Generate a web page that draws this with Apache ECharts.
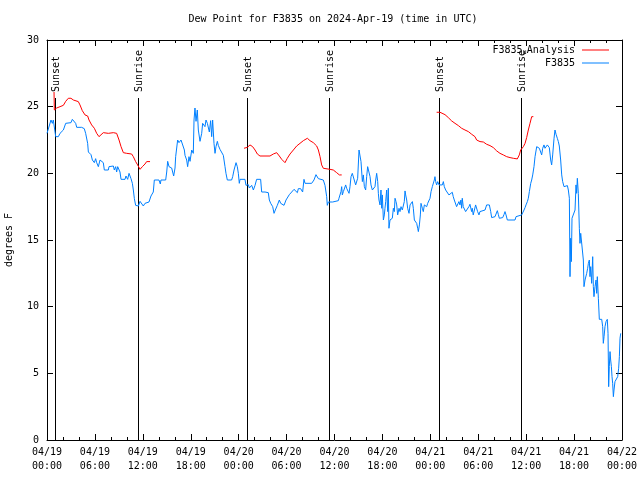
<!DOCTYPE html>
<html><head><meta charset="utf-8">
<script src="https://cdn.jsdelivr.net/npm/echarts@6/dist/echarts.min.js"></script>
<style>html,body{margin:0;padding:0;background:#fff}#c{width:640px;height:480px}</style>
</head><body><div id="c"></div>
<script>
// Hours since 2024-04-19 00:00 UTC
const dewHours = [0.0,0.5,0.67,0.79,1.09,1.42,1.63,2.05,2.34,3.0,3.17,3.42,3.59,3.72,4.34,4.67,4.84,5.09,5.18,5.51,5.68,5.93,6.09,6.22,6.43,6.64,6.85,7.05,7.18,7.68,7.76,8.31,8.43,8.6,8.72,8.85,9.02,9.14,9.27,9.77,9.89,10.1,10.27,10.52,10.69,10.81,10.94,11.1,11.44,11.65,11.85,12.06,12.27,12.48,12.77,13.02,13.31,13.44,14.02,14.19,14.27,14.86,14.99,15.11,15.28,15.61,15.86,16.03,16.11,16.36,16.53,16.78,16.95,17.2,17.28,17.49,17.61,17.78,17.91,18.12,18.32,18.41,
18.53,18.66,18.82,18.95,19.16,19.37,19.49,19.66,19.78,19.91,20.08,20.2,20.33,20.49,20.62,20.74,20.91,21.04,21.16,21.33,21.45,21.66,21.87,22.08,22.29,22.41,22.58,23.12,23.25,23.42,23.67,23.83,23.96,24.08,24.17,24.79,24.92,25.09,25.21,25.34,25.5,25.63,25.84,26.05,26.25,26.75,26.88,27.09,27.3,27.71,27.84,28.01,28.26,28.43,28.59,28.84,29.09,29.26,29.38,29.68,29.93,30.09,30.34,30.64,30.93,31.18,31.35,31.47,31.76,32.01,32.18,32.31,33.14,33.43,33.68,33.85,33.98,34.18,34.6,34.81,34.94,35.02,35.1,35.23,35.44,35.77,35.94,36.48,
36.56,36.69,36.81,36.9,36.98,37.11,37.23,37.4,37.52,37.65,37.82,37.94,38.07,38.23,38.36,38.48,38.65,38.78,38.9,39.07,39.19,39.32,39.49,39.61,39.74,39.9,40.03,40.15,40.32,40.45,40.57,40.74,40.99,41.07,41.16,41.28,41.41,41.49,41.57,41.7,41.82,41.91,41.99,42.12,42.24,42.32,42.41,42.53,42.66,42.74,42.82,42.95,43.07,43.24,43.37,43.49,43.58,43.7,43.79,43.91,44.08,44.2,44.33,44.49,44.62,44.74,44.83,44.91,45.04,45.16,45.33,45.46,45.58,45.75,45.87,46.0,46.17,46.29,46.42,46.5,46.63,46.75,46.83,47.0,47.12,47.25,47.42,47.54,47.67,47.83,47.96,48.09,48.25,48.38,48.5,48.58,48.67,48.79,48.92,49.09,49.34,49.5,49.63,49.75,49.92,50.17,50.33,50.58,50.75,50.87,51.0,51.17,51.29,51.42,51.58,51.71,51.83,51.92,52.0,52.12,52.25,52.42,52.67,52.83,52.96,53.09,53.17,53.25,53.37,53.5,53.67,53.79,53.92,54.09,54.21,54.42,
54.85,55.05,55.26,55.39,55.56,55.68,56.1,56.22,56.39,56.52,56.64,57.06,57.22,57.35,57.48,57.64,58.6,58.73,58.89,59.44,59.56,59.73,59.86,59.98,60.15,60.27,60.4,60.57,60.69,60.82,60.98,61.11,61.32,61.52,61.65,61.82,61.94,62.07,62.23,62.36,62.48,62.65,62.78,62.9,63.07,63.19,63.32,63.49,63.61,63.74,63.9,64.03,64.15,64.32,64.45,64.57,64.74,64.86,64.99,65.16,65.28,65.41,
65.49,65.57,65.66,65.74,65.99,66.12,66.24,66.32,66.41,66.53,66.66,66.74,66.83,67.08,67.16,67.24,67.37,67.49,67.58,67.7,67.79,67.91,67.99,68.08,68.2,68.33,68.41,68.49,68.62,68.75,68.83,68.91,69.04,69.16,69.46,69.58,69.66,69.75,69.87,70.0,70.16,70.25,70.33,70.41,70.5,70.58,70.67,70.75,70.83,70.92,71.0,71.12,71.33,71.46,71.58,71.67,71.75,71.84];
const dewValues = [23.0,24.0,23.75,24.0,22.75,22.75,23.0,23.25,23.75,23.8,24.05,24.05,23.75,23.45,23.45,23.35,23.0,22.25,21.6,21.4,21.0,20.8,21.1,20.8,20.5,21.0,21.1,20.8,20.25,20.25,20.5,20.55,20.25,20.5,20.1,20.5,20.5,20.1,19.55,19.55,19.8,19.55,20.0,19.6,19.25,18.75,18.1,17.6,17.55,17.9,17.75,17.55,17.75,17.8,17.85,18.3,18.6,19.5,19.5,19.2,19.5,19.5,20.1,20.9,20.5,20.4,19.8,20.4,21.25,22.5,22.3,22.5,22.2,21.75,21.35,21.0,20.5,21.25,20.9,21.75,21.5,24.0,
24.9,23.9,24.75,23.25,22.4,23.0,23.75,23.9,23.5,24.0,23.75,23.9,23.1,23.95,22.75,24.0,22.25,21.5,22.0,22.4,22.1,21.8,21.75,21.35,20.5,20.0,19.5,19.5,19.75,20.25,20.8,20.5,20.0,19.25,19.55,19.55,19.1,19.0,19.15,18.9,19.05,19.1,18.75,19.1,19.55,19.55,18.6,18.75,18.6,18.55,18.0,17.75,17.5,17.0,17.25,17.6,18.0,17.75,17.6,17.6,18.0,18.1,18.4,18.6,18.8,18.85,18.55,18.85,18.85,18.6,19.55,19.25,19.25,19.5,19.9,19.75,19.6,19.55,19.5,19.1,19.0,18.25,17.6,17.85,18.0,17.85,17.95,17.95,
18.13,18.25,18.63,19.0,18.38,18.63,18.75,19.13,18.88,18.75,18.5,19.0,19.75,20.0,20.13,19.93,19.13,19.0,19.63,21.75,21.88,20.88,19.38,19.88,19.0,18.75,19.75,20.5,20.63,19.75,19.13,18.75,18.75,19.0,19.5,20.0,19.38,18.5,18.0,17.63,18.75,17.38,18.38,16.5,16.88,17.38,17.88,18.75,17.13,18.88,15.88,16.5,16.63,16.63,17.38,17.13,18.13,17.88,17.63,16.88,17.38,17.13,17.5,17.25,17.13,17.88,18.68,18.38,18.0,17.38,17.0,17.63,17.75,17.88,17.38,16.5,16.38,16.25,15.88,15.63,16.13,16.88,17.75,17.38,17.13,17.63,17.75,17.5,17.75,17.63,18.13,18.63,19.0,19.13,19.5,19.75,19.38,19.13,19.38,19.13,19.0,19.13,19.38,19.0,18.75,18.75,18.38,18.38,18.58,18.25,18.0,18.08,17.5,17.38,17.88,17.63,18.0,17.38,18.13,17.5,17.63,17.13,17.13,17.5,17.68,17.63,17.13,17.38,16.88,16.88,17.63,17.68,17.13,16.88,17.13,17.25,
17.25,17.63,17.75,17.63,17.13,16.68,16.75,16.9,17.2,16.9,16.63,16.68,16.9,17.13,16.88,16.5,16.5,16.75,16.88,16.88,16.95,17.25,17.43,17.63,17.88,18.13,18.63,19.25,19.5,19.88,20.5,21.25,22.0,21.93,21.88,21.75,21.38,21.88,22.13,21.88,22.0,22.13,22.18,21.93,21.0,20.63,21.38,22.63,23.25,22.93,22.63,22.38,22.05,21.0,19.88,19.38,19.0,18.93,19.0,19.08,18.75,18.13,
12.25,15.13,13.38,16.63,16.63,17.25,19.13,18.5,19.63,18.5,15.88,14.75,15.5,15.5,13.5,11.5,12.0,11.88,12.5,12.88,13.25,13.5,12.25,13.0,11.75,13.75,11.5,10.75,11.5,12.0,11.0,12.25,10.63,9.05,9.05,8.5,7.25,7.75,8.5,8.88,9.05,8.0,4.0,5.5,6.63,6.0,5.5,4.75,4.25,3.25,3.75,4.38,4.5,4.75,5.38,6.25,7.63,8.0];

// Analysis series (null = gap)
const anaHours = [0.88,0.92,1.21,1.63,2.05,2.34,2.67,3.0,3.3,3.92,4.13,4.42,4.76,5.09,5.26,5.59,5.93,6.22,6.51,6.76,7.05,7.68,8.31,8.72,9.02,9.27,9.56,9.98,10.6,10.81,11.1,11.35,11.65,11.94,12.27,12.48,12.9,
13.0,
24.67,25.09,25.42,25.75,26.05,26.34,26.67,27.92,28.34,28.76,29.09,29.39,29.8,30.09,30.43,30.85,31.26,31.68,32.1,32.6,32.93,33.35,33.77,33.98,34.19,34.39,34.6,35.44,35.85,36.27,36.61,36.9,
37.0,
48.79,49.21,49.42,49.84,50.25,50.67,51.09,51.51,51.92,52.34,52.76,53.18,53.59,53.8,54.01,54.22,54.64,55.05,55.47,55.89,56.31,56.72,57.14,57.56,57.98,58.39,58.89,59.14,59.31,59.65,59.86,60.06,60.27,60.48,60.69,60.9];
const anaValues = [26.1,24.75,24.9,25.0,25.1,25.4,25.63,25.63,25.5,25.38,25.13,24.7,24.38,24.3,24.0,23.63,23.38,23.0,22.75,22.88,23.05,23.0,23.05,23.0,22.5,22.0,21.55,21.5,21.45,21.25,20.88,20.63,20.3,20.5,20.7,20.88,20.88,
null,
21.88,21.95,22.13,22.0,21.75,21.45,21.3,21.3,21.45,21.55,21.3,21.05,20.8,21.13,21.45,21.75,22.05,22.25,22.45,22.63,22.45,22.3,22.05,21.75,21.25,20.63,20.38,20.3,20.25,20.05,19.88,19.88,
null,
24.58,24.58,24.43,24.4,24.18,23.93,23.75,23.58,23.38,23.25,23.13,22.93,22.75,22.5,22.43,22.38,22.35,22.18,22.08,21.93,21.68,21.5,21.38,21.25,21.18,21.13,21.08,21.38,21.75,22.0,22.25,22.68,23.25,23.75,24.25,24.25];

const sunLabels = ['Sunset','Sunrise','Sunset','Sunrise','Sunset','Sunrise'];
const sunHours = [1.04,11.44,25.04,35.35,49.13,59.4];

const xTickHours = [0,6,12,18,24,30,36,42,48,54,60,66,72];
const yTicks = [0,5,10,15,20,25,30];

const FONT = 'DejaVu Sans Mono';
const pad = n => (n < 10 ? '0' : '') + n;
function fmtHour(h) {
  const d = new Date(Date.UTC(2024, 3, 19) + h * 3600000);
  return pad(d.getUTCMonth() + 1) + '/' + pad(d.getUTCDate()) + '\n' + pad(d.getUTCHours()) + ':' + pad(d.getUTCMinutes());
}

const chart = echarts.init(document.getElementById('c'), null, {renderer: 'canvas'});
const axisCommon = {
  type: 'value', min: xTickHours[0], max: xTickHours[xTickHours.length - 1], interval: 6,
  axisLine: {show: true, onZero: false, lineStyle: {color: '#000', width: 1}},
  axisTick: {show: true, inside: true, length: 6, lineStyle: {color: '#000'}},
  minorTick: {show: true, splitNumber: 3, length: 3, lineStyle: {color: '#000'}},
  splitLine: {show: false}
};
const yCommon = {
  type: 'value', min: yTicks[0], max: yTicks[yTicks.length - 1], interval: 5,
  axisLine: {show: true, onZero: false, lineStyle: {color: '#000', width: 1}},
  axisTick: {show: true, inside: true, length: 6, lineStyle: {color: '#000'}},
  splitLine: {show: false}
};

chart.setOption({
  animation: false,
  backgroundColor: '#fff',
  textStyle: {fontFamily: FONT},
  grid: {left: 47, right: 18, top: 40, bottom: 40, containLabel: false, outerBoundsMode: 'none'},
  graphic: [{
    type: 'text', x: 333, y: 19,
    style: {text: 'Dew Point for F3835 on 2024-Apr-19 (time in UTC)', font: '10px "' + FONT + '"', fill: '#000', textAlign: 'center', textVerticalAlign: 'middle'}
  }],
  legend: {
    right: 31, top: 44, orient: 'vertical', align: 'right', padding: 0,
    itemWidth: 27, itemHeight: 1, itemGap: 1, icon: 'rect',
    textStyle: {fontFamily: FONT, fontSize: 10, color: '#000', lineHeight: 12, padding: [0, 2, 0, 0],
      rich: {s: {fontFamily: FONT, fontSize: 7, lineHeight: 12, verticalAlign: 'bottom'}}},
    formatter: name => name.indexOf('_') > 0 ? name.replace('_', '{s|u}') : name,
    data: ['F3835_Analysis', 'F3835']
  },
  xAxis: [
    Object.assign({}, axisCommon, {position: 'bottom',
      axisLabel: {show: true, color: '#000', fontFamily: FONT, fontSize: 10, lineHeight: 14, margin: 5,
        formatter: v => fmtHour(v)}}),
    Object.assign({}, axisCommon, {position: 'top', axisLabel: {show: false}})
  ],
  yAxis: [
    Object.assign({}, yCommon, {position: 'left',
      name: 'degrees F', nameLocation: 'middle', nameGap: 33, nameRotate: 90,
      nameTextStyle: {color: '#000', fontFamily: FONT, fontSize: 10},
      axisLabel: {show: true, color: '#000', fontFamily: FONT, fontSize: 10, margin: 8}}),
    Object.assign({}, yCommon, {position: 'right', axisLabel: {show: false}})
  ],
  series: [
    {
      name: 'F3835_Analysis', type: 'line', symbol: 'none', connectNulls: false,
      lineStyle: {color: '#ff0000', width: 1}, itemStyle: {color: '#ff0000'},
      data: anaHours.map((h, i) => [h, anaValues[i]])
    },
    {
      name: 'F3835', type: 'line', symbol: 'none',
      lineStyle: {color: '#0080ff', width: 1}, itemStyle: {color: '#0080ff'},
      data: dewHours.map((h, i) => [h, dewValues[i]])
    },
    {
      name: 'sun', type: 'custom', clip: false, silent: true,
      data: sunHours.map((h, i) => [h, i]),
      renderItem: (params, api) => {
        const h = api.value(0);
        const label = sunLabels[api.value(1)];
        const bottom = api.coord([h, yTicks[0]]);
        const topY = api.coord([h, yTicks[yTicks.length - 1]])[1] + 58;
        const x = Math.round(bottom[0]) + 0.5;
        return {
          type: 'group',
          children: [
            {type: 'line', shape: {x1: x, y1: topY, x2: x, y2: bottom[1]}, style: {stroke: '#000', lineWidth: 1}},
            {type: 'text', x: x + 0.5, y: topY - 6, rotation: Math.PI / 2,
             style: {text: label, font: '10px "' + FONT + '"', fill: '#000', textAlign: 'left', textVerticalAlign: 'middle'}}
          ]
        };
      }
    }
  ]
});
</script></body></html>
